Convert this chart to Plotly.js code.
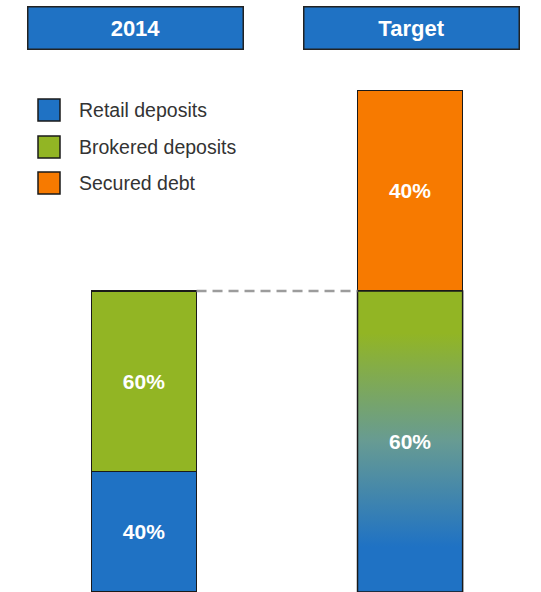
<!DOCTYPE html>
<html>
<head>
<meta charset="utf-8">
<script src="https://cdn.plot.ly/plotly-3.0.1.min.js"></script>
<style>
  html, body { margin: 0; padding: 0; background: #ffffff; }
  #chart { width: 541px; height: 592px; }
</style>
</head>
<body>
<div id="chart"></div>
<script>
// ---- data ----
const groups = ['2014', 'Target'];
const seriesNames = ['Retail deposits', 'Brokered deposits', 'Secured debt'];
// funding amounts (2014 total = 100)
const retail = [40, null];
const brokered = [60, null];
const depositMix = [null, 100];   // Target: retail + brokered blend
const secured = [null, 66.7];

// ---- styles ----
const BLUE = '#1f72c4';
const GREEN = '#92b524';
const ORANGE = '#f77a00';
const EDGE = '#1a1a1a';
const BAR_W = 0.395;
const FONT = 'Liberation Sans, Arial, sans-serif';

const xs = groups.map((g, i) => i);
const totals = xs.map(i => [retail[i], brokered[i], depositMix[i], secured[i]]
  .reduce((s, v) => s + (v || 0), 0));
const pct = (arr) => arr.map((v, i) => v == null ? '' : Math.round(v / totals[i] * 100) + '%');

const textFont = {family: FONT, size: 21, color: '#ffffff', weight: 'bold'};

const barCommon = {
  type: 'bar', width: BAR_W, showlegend: false, hoverinfo: 'skip',
  textposition: 'inside', insidetextanchor: 'middle', textfont: textFont,
  constraintext: 'none'
};

const traces = [
  Object.assign({}, barCommon, {
    name: seriesNames[0], x: xs, y: retail, text: pct(retail),
    marker: {color: BLUE, line: {color: EDGE, width: 1.5}}
  }),
  Object.assign({}, barCommon, {
    name: seriesNames[1], x: xs, y: brokered, text: pct(brokered),
    marker: {color: GREEN, line: {color: EDGE, width: 1.5}}
  }),
  Object.assign({}, barCommon, {
    name: 'Retail + brokered', x: xs, y: depositMix,
    marker: {color: 'rgba(0,0,0,0)', line: {width: 0}}
  }),
  Object.assign({}, barCommon, {
    name: seriesNames[2], x: xs, y: secured, text: pct(secured),
    marker: {color: ORANGE, line: {color: EDGE, width: 1.5}}
  })
];

// gradient-filled segment for the Target deposit blend, built from the data
const ti = 1;
const gx0 = xs[ti] - BAR_W / 2, gx1 = xs[ti] + BAR_W / 2;
const gTop = depositMix[ti];
traces.push({
  type: 'scatter', mode: 'lines', showlegend: false, hoverinfo: 'skip',
  x: [gx0, gx1, gx1, gx0, gx0],
  y: [0, 0, gTop, gTop, 0],
  fill: 'toself',
  fillcolor: '#679b93',
  fillgradient: {
    type: 'vertical', start: 0, stop: gTop,
    colorscale: [[0, BLUE], [0.15, BLUE], [0.5, '#679b93'], [0.86, GREEN], [1, GREEN]]
  },
  line: {color: EDGE, width: 1.5}
});

// dashed connector at the 2014 total
traces.push({
  type: 'scatter', mode: 'lines', showlegend: false, hoverinfo: 'skip',
  x: [xs[0] + BAR_W / 2, xs[1] - BAR_W / 2],
  y: [totals[0], totals[0]],
  line: {color: '#9c9c9c', width: 2.5, dash: '10px,6px'}
});

const annotations = [];
const shapes = [];

// percentage label of the blended segment
annotations.push({
  x: xs[ti], y: gTop / 2, xref: 'x', yref: 'y', showarrow: false,
  xanchor: 'center', yanchor: 'middle',
  text: pct(depositMix)[ti], font: textFont
});

// header boxes
const headerX = [135 / 541, 411 / 541];
groups.forEach((g, i) => {
  annotations.push({
    x: headerX[i], y: 1 - 28.5 / 592, xref: 'paper', yref: 'paper',
    xanchor: 'center', yanchor: 'middle',
    showarrow: false, text: '<b>' + g + '</b>',
    font: {family: FONT, size: 22, color: '#ffffff'},
    bgcolor: BLUE, bordercolor: '#222222', borderwidth: 1.5, borderpad: 0,
    width: 214, height: 41, align: 'center', valign: 'middle'
  });
});

// manual legend
const legendColors = [BLUE, GREEN, ORANGE];
const legendY = [110, 147, 183];
seriesNames.forEach((n, i) => {
  shapes.push({
    type: 'rect', xref: 'paper', yref: 'paper',
    x0: 38 / 541, x1: 60 / 541,
    y0: 1 - (legendY[i] + 11) / 592, y1: 1 - (legendY[i] - 11) / 592,
    fillcolor: legendColors[i], line: {color: EDGE, width: 1.5}
  });
  annotations.push({
    x: 77 / 541, y: 1 - legendY[i] / 592, xref: 'paper', yref: 'paper',
    xanchor: 'left', yanchor: 'middle', showarrow: false, text: n,
    font: {family: FONT, size: 19.5, color: '#333333'}
  });
});

const layout = {
  width: 541, height: 592,
  margin: {l: 0, r: 0, t: 0, b: 0},
  paper_bgcolor: '#ffffff', plot_bgcolor: '#ffffff',
  barmode: 'stack',
  showlegend: false,
  xaxis: {range: [-0.541, 1.492], visible: false, fixedrange: true},
  yaxis: {range: [0, 196.7], visible: false, fixedrange: true},
  annotations: annotations,
  shapes: shapes,
  font: {family: FONT}
};

Plotly.newPlot('chart', traces, layout, {displayModeBar: false, staticPlot: true});
</script>
</body>
</html>
